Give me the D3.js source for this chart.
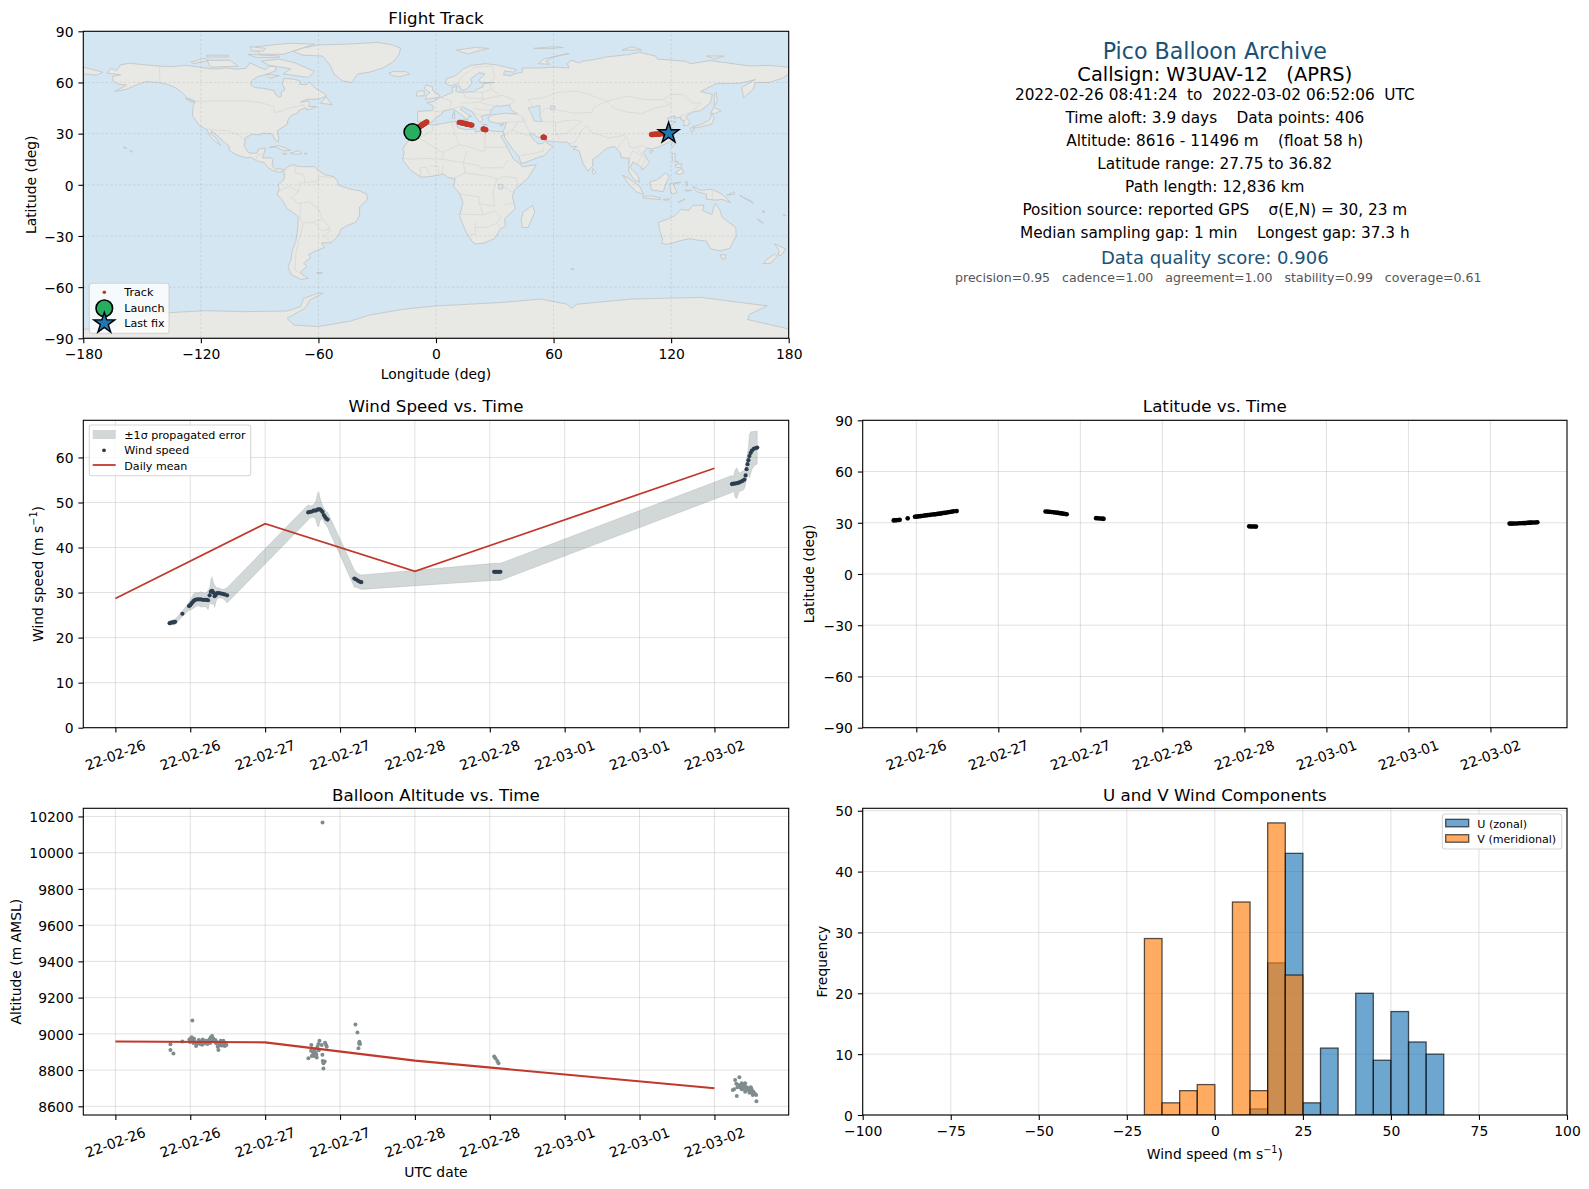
<!DOCTYPE html>
<html>
<head>
<meta charset="utf-8">
<script src="https://cdn.jsdelivr.net/npm/d3@7"></script>
<style>
  html, body { margin: 0; padding: 0; background: #fff; }
  svg { display: block; }
  text { font-family: "DejaVu Sans", sans-serif; fill: #000; }
</style>
</head>
<body>
<svg id="chart" width="1589" height="1189"></svg>
<script>
// ── Data ──────────────────────────────────────────────────────────────────────

// hours since 2022-02-26 00:00 UTC, shared by the track, wind and latitude marks
const trackHours = [
  8.69, 8.9, 9.1, 9.35, 9.57, 10.74, 11.8, 12.0, 12.2, 12.4, 12.6, 12.8, 13.1, 13.4, 13.7, 14.0,
  14.3, 14.6, 14.85, 15.1, 15.3, 15.5, 15.7, 15.9, 16.1, 16.3, 16.6, 16.9, 17.2, 17.5, 17.9,
  30.9, 31.2, 31.5, 31.8, 32.1, 32.4, 32.6, 32.8, 33.0, 33.2, 33.4, 33.6, 33.8, 34.0,
  38.3, 38.6, 38.9, 39.2, 39.4,
  60.7, 60.95, 61.2, 61.45, 61.7,
  98.8, 99.05, 99.3, 99.6, 99.9, 100.2, 100.5, 100.8, 101.0, 101.15, 101.3, 101.45, 101.6, 101.8,
  102.0, 102.3, 102.6, 102.86
];
const windSpeed = [
  23.2, 23.3, 23.4, 23.4, 23.5, 25.3, 27.0, 27.2, 27.6, 27.9, 28.2, 28.4, 28.5, 28.5, 28.5, 28.4,
  28.4, 28.4, 28.3, 29.4, 30.2, 30.4, 30.0, 29.2, 29.5, 29.9, 29.9, 29.8, 29.7, 29.6, 29.4,
  47.8, 47.9, 48.0, 48.2, 48.2, 48.4, 48.5, 48.5, 48.2, 47.9, 47.2, 46.8, 46.4, 46.2,
  33.1, 32.9, 32.6, 32.4, 32.3,
  34.6, 34.6, 34.6, 34.6, 34.6,
  54.1, 54.2, 54.2, 54.3, 54.4, 54.6, 54.8, 55.1, 56.0, 57.4, 58.5, 59.4, 60.3, 61.0,
  61.5, 61.9, 62.1, 62.2
];
const windSigma = [
  0.5, 0.5, 0.5, 0.6, 0.6, 0.6, 0.9, 1.1, 1.3, 1.5, 1.6, 1.6, 1.4, 1.5, 1.7, 1.6,
  1.5, 1.7, 2.1, 1.6, 2.6, 3.1, 2.2, 2.5, 1.7, 1.2, 1.1, 1.0, 1.0, 1.2, 1.7,
  1.7, 1.3, 1.3, 1.4, 2.0, 3.6, 3.9, 2.6, 1.9, 1.5, 1.5, 1.5, 1.5, 1.7,
  1.9, 1.7, 1.6, 1.6, 1.6,
  1.9, 1.9, 1.9, 1.9, 1.9,
  1.9, 1.5, 3.0, 3.4, 2.2, 2.0, 2.2, 2.0, 2.0, 2.2, 2.4, 2.8, 4.8, 4.7,
  4.2, 3.9, 3.7, 3.7
];
const trackLat = [
  31.4, 31.5, 31.5, 31.6, 31.7, 32.6, 33.5, 33.6, 33.7, 33.8, 33.9, 34.0, 34.2, 34.3, 34.5, 34.6,
  34.8, 34.9, 35.0, 35.2, 35.3, 35.4, 35.5, 35.7, 35.8, 35.9, 36.1, 36.3, 36.5, 36.7, 36.82,
  36.6, 36.5, 36.4, 36.3, 36.1, 36.0, 35.9, 35.8, 35.6, 35.5, 35.4, 35.3, 35.1, 35.0,
  32.7, 32.6, 32.5, 32.4, 32.3,
  27.9, 27.85, 27.8, 27.78, 27.75,
  29.5, 29.5, 29.5, 29.6, 29.6, 29.7, 29.7, 29.8, 29.8, 29.9, 29.9, 30.0, 30.0, 30.1,
  30.1, 30.2, 30.2, 30.3
];
const trackLon = [
  -12.0, -11.8, -11.6, -11.4, -11.2, -10.2, -9.2, -9.0, -8.9, -8.8, -8.6, -8.5, -8.3, -8.1, -7.9, -7.7,
  -7.5, -7.3, -7.1, -7.0, -6.8, -6.7, -6.5, -6.3, -6.1, -5.9, -5.7, -5.4, -5.2, -5.0, -4.7,
  11.9, 12.4, 12.9, 13.4, 13.9, 14.4, 14.8, 15.2, 15.6, 16.1, 16.6, 17.2, 17.7, 18.3,
  24.1, 24.4, 24.7, 25.0, 25.4,
  54.7, 54.85, 55.0, 55.15, 55.3,
  110.0, 110.4, 110.9, 111.4, 111.9, 112.4, 112.9, 113.4, 113.8, 114.2, 114.6, 115.0, 115.5, 116.0,
  116.5, 117.1, 117.8, 118.6
];

const launchPoint = [-12.05, 30.9];
const lastFixPoint = [118.7, 30.3];

const meanHours = [0, 24, 48, 96];
const windMean = [28.7, 45.3, 34.7, 57.6];
const altMean = [8958, 8953, 8852, 8700];

const altHours = [
  8.82, 8.82, 9.3, 10.74, 12.34, 11.86, 11.97, 12.24, 12.4, 12.61, 12.93, 13.15, 13.36, 13.57, 13.79,
  14.0, 14.21, 14.53, 14.75, 15.07, 15.28, 15.5, 15.71, 16.03, 16.24, 16.51, 16.67, 16.88, 17.1, 17.31,
  17.53, 17.79, 12.77, 13.47, 14.37, 14.9, 16.4, 17.0, 17.42,
  12.1, 12.5, 13.0, 13.3, 13.9, 14.1, 14.45, 14.95, 15.2, 15.6, 15.9, 16.15, 16.75, 17.2, 17.65,
  30.93, 31.41, 31.36, 31.63, 31.84, 31.47, 32.27, 32.1, 32.54, 32.7, 32.38, 33.07, 33.18, 33.23, 33.55,
  33.34, 33.34, 33.6, 33.77, 33.87, 33.2,
  31.75, 31.95, 32.2, 32.6,
  38.47, 38.79, 39.11, 39.21, 38.95, 39.05,
  60.7, 60.9, 61.2, 61.4,
  100.0, 99.31, 98.94, 99.58, 102.73, 100.38, 99.85, 100.92, 100.65, 100.12, 101.18, 101.45, 101.82,
  101.99, 102.25, 102.52, 102.68, 101.61, 102.14, 100.92, 100.38, 99.15, 99.69,
  99.5, 100.25, 100.55, 100.8, 101.05, 101.3, 101.7, 101.9, 102.05, 102.4
];
const altMeters = [
  8942, 8911, 8892, 8958, 9074, 8969, 8955, 8981, 8962, 8973, 8933, 8947, 8966, 8944, 8958,
  8969, 8947, 8962, 8944, 8969, 8981, 8988, 8973, 8966, 8955, 8911, 8940, 8962, 8936, 8962,
  8933, 8938, 8955, 8955, 8955, 8962, 8929, 8951, 8947,
  8975, 8950, 8945, 8952, 8940, 8960, 8950, 8958, 8950, 8960, 8958, 8948, 8935, 8945, 8950,
  8865, 8938, 8907, 8901, 8877, 8877, 8870, 8896, 8944, 8962, 8929, 8938, 8885, 8850, 8848,
  8837, 8809, 8951, 8938, 8929, 10166,
  8890, 8915, 8885, 8910,
  9052, 9008, 8957, 8944, 8920, 8947,
  8875, 8865, 8850, 8838,
  8760, 8745, 8690, 8657, 8628, 8727, 8718, 8727, 8705, 8705, 8705, 8690, 8705,
  8690, 8681, 8668, 8663, 8675, 8663, 8681, 8694, 8694, 8705,
  8725, 8715, 8695, 8715, 8690, 8700, 8680, 8698, 8678, 8670
];

// histogram: left bin edges in m/s, all bins 5 wide
const binStarts = [-20, -15, -10, -5, 0, 5, 10, 15, 20, 25, 30, 35, 40, 45, 50, 55, 60];
const uCounts = [0, 0, 0, 0, 0, 0, 1, 25, 43, 2, 11, 0, 20, 9, 17, 12, 10];
const vCounts = [29, 2, 4, 5, 0, 35, 4, 48, 23, 0, 0, 0, 0, 0, 0, 0, 0];

const timeTicks = [0, 12, 24, 36, 48, 60, 72, 84, 96];
const timeTickLabels = ['22-02-26', '22-02-26', '22-02-27', '22-02-27', '22-02-28', '22-02-28', '22-03-01', '22-03-01', '22-03-02'];

const infoLines = [
  'Pico Balloon Archive',
  'Callsign: W3UAV-12   (APRS)',
  '2022-02-26 08:41:24  to  2022-03-02 06:52:06  UTC',
  'Time aloft: 3.9 days    Data points: 406',
  'Altitude: 8616 - 11496 m    (float 58 h)',
  'Latitude range: 27.75 to 36.82',
  'Path length: 12,836 km',
  'Position source: reported GPS    σ(E,N) = 30, 23 m',
  'Median sampling gap: 1 min    Longest gap: 37.3 h',
  'Data quality score: 0.906',
  'precision=0.95   cadence=1.00   agreement=1.00   stability=0.99   coverage=0.61'
];

// Land outlines, lon/lat, read by eye from the map
const landPolygons = [
  // North and Central America
  [[-168,65.5],[-166,68.3],[-163,67],[-161,70.3],[-156.5,71.3],[-150,70.5],[-141,69.6],[-135,69.3],[-128,70],[-124,69.5],[-115,68],[-110,68],[-108,68.6],[-102,67.8],[-97,68.3],[-95,71.5],[-92,70],[-90,68.8],[-87,67.5],[-85,69.5],[-82,69.5],[-81.5,67],[-87,64.5],[-91,63.5],[-94,61],[-94.5,58.7],[-92.5,57],[-88,56.5],[-82.5,55.2],[-82,53],[-80,51.3],[-79,52],[-79,54.5],[-77,56],[-78.5,59],[-77.5,62.4],[-73,62],[-69.5,61],[-69.5,58.8],[-66,58.8],[-64.5,60.3],[-61.5,56.5],[-57,53.5],[-56,52],[-60,50.2],[-66,50.2],[-69,48.5],[-65,49.2],[-64.5,47.5],[-65,46],[-61,45.8],[-64,44.5],[-66,43.8],[-66,45],[-67,45],[-70,43.5],[-70.7,42],[-74,40.6],[-75.5,38],[-76,35.5],[-78,33.8],[-81,31.8],[-80.2,27],[-80.5,25.2],[-81.8,26],[-82.8,28],[-84,30],[-89,30.3],[-89.5,29.2],[-94,29.6],[-97.3,27.5],[-97.8,22.5],[-95.5,18.7],[-91.5,18.5],[-90.5,21],[-87,21.5],[-88,17.5],[-88.7,15.8],[-84,15.8],[-83.3,14.8],[-83.7,11],[-82,9],[-79.7,9.5],[-77.3,8.5],[-78,8],[-80,7.3],[-83,8.2],[-85.7,10],[-87.6,13],[-91.5,14],[-94.5,16.2],[-97,15.8],[-101.5,17.5],[-105.5,20],[-105.5,22.5],[-109,26],[-112.8,30],[-114.7,31.5],[-114.8,30],[-112,27],[-110,23],[-112,24.7],[-115,28],[-117,32.5],[-120.5,34.5],[-122.5,37.5],[-124.3,40.5],[-124,46],[-122.8,49],[-127,51],[-130,54.5],[-133,57],[-137,58.8],[-142,60],[-148,60.5],[-152,59],[-158,56],[-164,54.7],[-158,58.5],[-162,59],[-165,61],[-165,63.5],[-161,64.5]],
  // South America
  [[-77.3,8.5],[-75.5,10.7],[-72,12],[-71.5,11],[-68,10.6],[-62,10.7],[-60,8.4],[-57,6],[-52,4.7],[-50,1.5],[-50,0],[-48,-1],[-44,-2.5],[-39,-3.5],[-35.3,-5.5],[-35,-8.5],[-39,-13],[-39,-18],[-41,-22],[-45,-23.7],[-48.5,-26],[-50,-30],[-53.5,-34],[-58.3,-34],[-57,-36.8],[-62,-39],[-65,-41],[-64,-42.8],[-67.5,-46],[-66,-48],[-69,-51],[-68.3,-52.5],[-65.2,-54.8],[-69,-55.5],[-74,-52.5],[-75.5,-48],[-74,-44],[-73.5,-39],[-71.5,-33],[-70.5,-25],[-70.3,-18.5],[-76,-14],[-79,-8],[-81.2,-5.5],[-80,-3],[-80.5,0],[-78.5,2],[-77.3,4],[-77.5,7],[-78,8]],
  // Greenland
  [[-73,78.2],[-68,80.2],[-60,82],[-45,82.5],[-30,83.5],[-22,82],[-18,80],[-19,76],[-22,72],[-27,68.5],[-34,66],[-40,65],[-43,60],[-48,61],[-52,65],[-54,70],[-58,75.5],[-68,76]],
  // Canadian Arctic
  [[-80,73.7],[-72,71.5],[-67,69],[-62,66.5],[-65,63],[-72,64],[-78,65],[-74,68],[-85,70],[-89,72.5]],
  [[-117,73],[-105,73],[-101,69.5],[-115,69]],
  [[-90,76.5],[-78,76.5],[-62,82.5],[-75,83],[-92,81]],
  [[-125,72],[-118,74.2],[-116,73],[-124,71]],
  [[-96,76.5],[-80,75.5],[-80,74.7],[-92,74.7]],
  [[-117,76],[-106,76],[-106,75],[-117,75]],
  [[-95,81],[-87,80],[-88,78.5],[-94,78.5]],
  [[-87,65],[-80,64],[-85,62.5]],
  [[-59,47.8],[-56,51.5],[-53,47]],
  [[-128,50.8],[-124,49],[-123.5,48.4],[-125.5,48.8]],
  // Caribbean and Pacific islands
  [[-85,22],[-80,23],[-74.2,20.2],[-77.5,19.9],[-82,22.2]],
  [[-74.4,18.5],[-70,20],[-68.5,18.5],[-71.5,17.8]],
  [[-78.3,18.4],[-76.3,18.2],[-77.5,17.8]],
  [[-67.2,18.5],[-65.7,18.4],[-66.5,17.9]],
  [[-156,20.2],[-155,19.7],[-155.7,19]],
  [[-159.7,22.2],[-158,21.6],[-157.8,21.2],[-158.2,21.3]],
  // Iceland and the British Isles
  [[-24,65.5],[-22,66.4],[-15,66.3],[-13.5,65],[-18.5,63.4],[-22.5,64]],
  [[-5.5,50],[1.3,51.2],[1.7,52.7],[-1.5,55],[-2,57.6],[-5,58.6],[-6,56.5],[-3,54],[-4.8,52.8],[-5,51.7]],
  [[-10,52],[-6,52.2],[-6,55],[-8.3,55.2],[-10,54]],
  // Eurasia
  [[-9.5,37],[-9.3,43],[-2,43.5],[-1.2,46],[-4.7,48.3],[-1.5,48.7],[1.5,50.8],[4,52],[7,53.5],[8.5,54],[8.2,57],[10.7,57.7],[10,55],[12,54.2],[19,54.5],[21,56],[24,57.5],[24,59.3],[30,60],[23,60],[21.5,61],[25,65],[22,65.8],[17.5,62],[18.5,60],[16.5,57],[14.5,55.5],[13,55.5],[11.5,58.5],[10.5,59.3],[8,58],[5.3,59],[5,62],[10,64],[14,68],[18,70],[25,71],[31,70.3],[41,67.5],[40,66],[35,66.7],[34.5,64.5],[38,64],[40,65],[44,66],[44,68.5],[54,68.5],[60,69],[68,68.5],[67,71],[69,73],[73,71.5],[75,72.5],[81,73.5],[87,75],[98,76.3],[104,77.7],[112,75.5],[113,73.7],[127,72.5],[130,71],[140,72.8],[160,69.7],[170,70],[180,69],[180,65],[177,62.5],[170,60],[163,60],[162,56],[157,51],[156,57],[163,61.7],[155,59.5],[143,59.3],[135,54.7],[141,53],[140,48],[135,43.5],[130.5,42.5],[127.5,39.8],[129.5,37],[129,35.2],[126.3,34.5],[126.7,37.7],[125,38],[125,39.7],[121.5,39],[122,40.5],[118,39],[119,37.3],[122.5,37],[119.5,35],[122,31],[121.5,28.3],[119,25],[114,22.3],[110,21],[108,21.5],[105.7,19],[109,13],[107,10.5],[105,8.7],[105,10.3],[102.5,12],[100.5,13.5],[99.2,10],[103,5.5],[104,1.5],[101,3],[98.3,8],[98.5,15.5],[94.5,16],[94,19],[91,22.5],[87,21.3],[82,16.3],[80,15],[80,11],[77.5,8],[75,12.5],[73,20],[70,21],[72,22.5],[69,22.5],[67,25],[61.5,25.2],[57,25.7],[56.3,27],[51.5,28],[48.8,30.3],[48,29.5],[50.2,26],[51.5,25],[52,24],[54.5,24.2],[56.3,26.2],[56.5,24.5],[59.8,22.5],[55,17],[52,16],[45,12.8],[43.2,12.7],[42.5,16.5],[39,21],[35,27.8],[34.9,29.5],[34.2,31.3],[35,33],[36,36.5],[32,36],[30,36.5],[27.3,37],[26.5,39.5],[29,41],[35,42],[41.5,41.5],[38,44.5],[37.5,46.9],[33,46],[30.5,46.5],[28,43.5],[28,41.5],[26,41],[23,40.3],[24,38],[22.5,36.5],[19.5,41],[19,42.5],[13.5,45.7],[12.3,44.5],[16,41.5],[18.3,40],[16.7,40.2],[16,38],[12.5,41.5],[8.8,44.4],[3.5,43.3],[3.2,41.8],[-0.3,39],[-2,36.8],[-5.5,36],[-7,37.2]],
  [[-180,69],[-175,67.5],[-170,66],[-173,64.3],[-180,65]],
  // Africa
  [[-5.8,35.8],[-1.5,35],[10,37.3],[11,33.5],[15,32.3],[20,32.8],[20,31],[25,32],[32,31.2],[34.2,31.2],[34.9,29.5],[33,28.5],[35.5,24],[37.3,20],[39.5,15],[43.2,12],[44,10.5],[51.2,11.8],[47,4],[40,-3],[39,-7],[40.5,-14],[35,-20],[35.5,-24],[32.7,-26],[30,-31.5],[25,-34],[20,-34.8],[18.3,-33],[15,-27],[12,-18],[13.8,-10.5],[12,-5],[9,-1],[9.7,3.5],[6,4.3],[4,6.3],[-2,5],[-7.5,4.4],[-13,8.5],[-17,14.7],[-16.3,19],[-17,21],[-13,27.7],[-9.8,30],[-9,33]],
  [[49.3,-12],[50.4,-16],[47,-25],[44,-25],[43.5,-20],[44.5,-16]],
  // Australia and the islands north of it
  [[113.5,-22],[114,-26],[115.7,-32],[115,-34.3],[118,-35],[124,-33],[129,-31.6],[134,-32.5],[138,-33],[140,-37.5],[145,-38.8],[150,-37.3],[153.2,-30],[153,-25],[146,-19],[145,-15],[142.5,-10.8],[141.5,-14],[140.8,-17.5],[136,-15],[136.8,-12],[131,-12],[129,-15],[125,-14.5],[122,-18],[118,-20.3]],
  [[145,-41],[148,-41],[147.5,-43.5],[146,-43.5]],
  [[172.8,-34.5],[178.5,-37.7],[176,-41.5],[174.7,-41.2],[175,-38.5]],
  [[172.7,-40.6],[174.2,-41.8],[170.8,-46],[167,-46.2],[168.5,-44]],
  [[131,-1],[135,-3.3],[141,-2.6],[146,-5.5],[150.5,-10.5],[146,-8.5],[143,-9],[138,-8.4],[138,-5.5],[133,-4]],
  [[109,1.5],[113,3],[117,7],[119,5],[117.5,1],[116,-4],[110,-3]],
  [[95.3,5.6],[98,4],[104,-1],[106,-5.8],[102,-4],[98,1]],
  [[105.5,-6.8],[110,-6.5],[114.5,-7.7],[114.5,-8.7],[106,-7.8]],
  [[119.5,0.8],[125,1.5],[121,0.3],[123,-4.5],[120.5,-5.5],[119.5,-3]],
  [[116,-8.5],[119,-8.3],[119,-8.9],[116,-9]],
  [[123.5,-10.3],[127,-8.4],[125,-9.6]],
  [[127.5,2],[128.5,1.5],[128,-0.8],[127.5,0.5]],
  [[127,-3.2],[130.5,-3.2],[128,-3.8]],
  [[120.5,18.5],[122,18.3],[122,14.5],[124,13],[120.7,14]],
  [[122,7],[125.5,9.8],[126.5,7],[124,6]],
  [[122,11.7],[125.5,12.5],[125,10.3],[122.5,10]],
  [[121,25],[122,25],[120.8,22],[120,23.3]],
  [[109,20],[111,20],[109.5,18.3]],
  [[152,-4.2],[152.5,-5.5],[148.5,-6],[150,-5.3]],
  [[155,-6],[157,-7.5],[161,-9.5],[162,-10.8],[159,-9]],
  [[164,-20],[167,-22.3],[166,-22.3]],
  [[166.7,-15],[167.8,-16],[167,-16.2]],
  [[177.3,-17.5],[178.6,-18],[177.5,-18.3]],
  // Japan, Sakhalin, Sri Lanka
  [[130.8,34],[135.5,35.5],[139.5,38],[141,41.3],[142,39.5],[140.8,35.7],[137,34.5],[133,33.5]],
  [[130,33.5],[132,33],[131,31],[130,31.5]],
  [[140,41.5],[141.7,45.4],[145.5,43.5],[143,42]],
  [[142,46],[143.5,49],[143,54.2],[142,53],[142,49]],
  [[80,9.5],[81.8,7.5],[80.5,6],[79.8,7.5]],
  // Arctic Russia and Svalbard
  [[14,77.5],[10.5,79],[20,80.5],[27,80],[20,78],[16.5,76.7]],
  [[52,71],[55.5,74],[68,77],[60,75],[56,72.5],[58,70.7]],
  [[95,79],[105,79],[100,81]],
  [[138,75.5],[147,75.5],[142,73.8]],
  [[50,80],[60,81],[65,80.5],[55,79.8]],
  // Mediterranean
  [[8.3,41],[9.7,41],[9.5,39],[8.5,39]],
  [[8.7,42.5],[9.5,43],[9.3,41.4]],
  [[12.5,38],[15.5,38.2],[15,36.7]],
  [[23.7,35.5],[26.2,35.2],[24.5,35]],
  [[32.5,35],[34.5,35.6],[33.5,34.6]],
  // Southern ocean
  [[-61,-51.5],[-58,-51.5],[-59,-52.3]],
  [[69,-49],[70.5,-49.5],[69,-49.6]],
  // Antarctica
  [[-180,-90],[-180,-84.7],[-165,-84],[-155,-79],[-145,-75.5],[-117.5,-73.8],[-98.5,-74.4],[-76,-74],[-69,-71.4],[-67.6,-66.6],[-60,-63.5],[-57.6,-63.5],[-64.3,-67.5],[-66.8,-72.3],[-76,-78.3],[-72.4,-82.2],[-60,-83.1],[-44,-80],[-34,-76.4],[-17,-73],[0,-71],[9,-70.5],[33,-69],[53.6,-67],[67,-70],[69,-72.5],[72,-70],[100,-67],[135,-66],[169,-71],[160,-76],[159,-79],[178,-84],[180,-84.7],[180,-90]]
];

// Inland seas, painted back over the land
const waterPolygons = [
  [[47,45],[53,46.5],[53,41],[54,37],[50,37.5],[49,41]],
  [[58.5,46.5],[61,46],[60,44],[58.5,44]],
  [[32,0.3],[34,0.3],[34,-2.5],[32,-2.5]]
];

// Country borders, coarse
const borderLines = [
  [[-123,49],[-95,49],[-89,48],[-83,46],[-82.5,42.5],[-79,43],[-75,45],[-70,46],[-67.5,47],[-67,45]],
  [[-141,69.6],[-141,60]],
  [[-117,32.5],[-106.5,31.7],[-101,29.5],[-97.3,25.9]],
  [[-92,14.5],[-91,17.5],[-88.5,18]],
  [[-51.5,4],[-60,5],[-60,2],[-70,1],[-70,-4],[-74,-7.5],[-70,-11],[-65,-10],[-60,-14],[-58,-20],[-55,-24],[-54,-27],[-57.5,-30],[-53.5,-33.5]],
  [[-69.5,-18],[-68,-24],[-70,-33],[-71.5,-40],[-72,-50],[-69,-52]],
  [[-69,-11],[-69.5,-18]],
  [[-72,12],[-72,7],[-67.5,6],[-67,1.5]],
  [[-80,-3.5],[-75,-1],[-70,-4]],
  [[-68,-22.5],[-62.5,-22],[-58,-20]],
  [[-62.5,-22],[-58,-27],[-54.5,-26]],
  [[-2,35],[-1.5,32],[-8.7,27.5],[-13,27.7]],
  [[-8.7,27.5],[-5,25],[3,19],[12,23.5],[9.5,30],[8,36.9]],
  [[25,31.7],[25,20]],
  [[25,22],[36.8,22]],
  [[12,23.5],[15,23],[24,19.5],[25,20]],
  [[3,15],[4,19]],
  [[-17,15.5],[-12,15],[-5,15.5],[3,15]],
  [[3,15],[14,13],[22.5,11],[23.5,9]],
  [[3,6.5],[3.7,11.5]],
  [[14,13],[15,7],[9,4]],
  [[15,7],[27,5],[31,3.5],[35,5],[41,4],[42,-1.5]],
  [[23.5,10],[34,10],[36.5,14.5]],
  [[14,13],[16,20]],
  [[12,-5.5],[22,-7],[22,-11],[30,-12.5],[29,-4],[30,-1],[31,3.5]],
  [[34,-1],[39.5,-4.5]],
  [[40.5,-10.7],[35,-11.5]],
  [[12,-17.3],[24,-17.5],[22,-11]],
  [[20,-22],[20,-29],[17,-29]],
  [[20,-25],[26,-25],[31,-22.5],[33,-25]],
  [[24,-17.5],[30,-15.5],[33,-19],[31,-22.5]],
  [[-8,4.5],[-8,10],[-5,10.5],[-3,5]],
  [[-3,11],[1,11],[1.5,6]],
  [[-1.8,43.4],[3,42.5]],
  [[2.5,51],[8,49],[7,44]],
  [[14,54],[15,51],[24,50.5]],
  [[19,54.4],[23.5,54],[24,50],[22,48.5]],
  [[13,48],[17,48],[22,48.5],[30,46]],
  [[7,44],[13.5,46.5]],
  [[22.5,41],[19.5,42]],
  [[28,43.7],[22.5,44],[19,45]],
  [[28,59.5],[28,56],[23.5,54]],
  [[28,60.5],[30,62.5],[29,69.5]],
  [[11.5,59],[12.5,63],[20,69],[29,69.5]],
  [[24,50],[31.5,52],[34,52.5],[40,49.5],[38,47]],
  [[28,56],[32,53]],
  [[49,46.5],[47,50],[55,51],[61,54],[71,55],[77,53.5],[87,49]],
  [[87,49],[98,52],[106,50],[116,50],[120,47]],
  [[87,49],[91,45],[97,42.7],[105,41.7],[112,45],[120,47]],
  [[116,50],[120,53],[126,53],[131,48],[135,48],[131,43],[130.5,42.5]],
  [[124.5,40],[130,42.5]],
  [[126.5,37.8],[128.5,38.5]],
  [[53,41.5],[56,45],[61,44],[66,43],[70,42],[80,42.5],[80,45],[87,49]],
  [[44.5,39.5],[46,35],[48,30]],
  [[61,36.5],[61,31],[63,27],[61.5,25.2]],
  [[54,37.3],[61,36.5]],
  [[61,36.5],[66,37.5],[71,38],[74.5,37],[71,34],[66.5,30],[61,29.5]],
  [[68,24],[71,25],[74.5,32],[77,35]],
  [[77,35],[79,31],[88,27.5],[96,29],[97,27.5],[94,24],[92.5,21]],
  [[97.5,27.5],[99,22],[101,21.5],[105,23],[108,21.5]],
  [[98.5,10],[99,17],[100.5,20],[105,17],[102.5,12]],
  [[103,21],[107,15],[105,11]],
  [[35,29.5],[39,32],[46.5,29],[48,29.5]],
  [[36,36.7],[44.5,37],[44.5,39.5],[41.5,41.5]],
  [[39,32],[42,37]],
  [[43,17],[52,19],[55,20],[55,22]],
  [[141,-2.6],[141,-9]],
  [[109.5,2],[115,4]]
];

// ── Layout and styling ────────────────────────────────────────────────────────

const RED = '#c0392b', NAVY = '#2c3e50', SLATE = '#7f8c8d', BLUE = '#1f77b4', ORANGE = '#ff7f0e';
const TITLE_BLUE = '#1a5276';

const svg = d3.select('#chart');
const defs = svg.append('defs');

const columns = { left: [83.3, 788.7], right: [862.7, 1567] };
const rows = { top: [338.3, 31.3], mid: [727.7, 420.3], low: [1115, 808.3] };

// ── Panel scaffolding ─────────────────────────────────────────────────────────

function makePanel(id, col, row, xDomain, yDomain, title, titleY) {
  const x = d3.scaleLinear().domain(xDomain).range(columns[col]);
  const y = d3.scaleLinear().domain(yDomain).range(rows[row]);
  const root = svg.append('g').attr('class', 'panel-' + id);
  const [x0, x1] = columns[col], [y0, y1] = rows[row];

  defs.append('clipPath').attr('id', 'clip-' + id)
    .append('rect').attr('x', x0).attr('y', y1).attr('width', x1 - x0).attr('height', y0 - y1);

  const under = root.append('g');
  const grid = root.append('g');
  const plot = root.append('g').attr('clip-path', `url(#clip-${id})`);
  const frame = root.append('g');

  frame.append('rect')
    .attr('x', x0).attr('y', y1).attr('width', x1 - x0).attr('height', y0 - y1)
    .attr('fill', 'none').attr('stroke', '#000').attr('stroke-width', 1.1);

  root.append('text')
    .attr('x', (x0 + x1) / 2).attr('y', titleY)
    .attr('text-anchor', 'middle').attr('dominant-baseline', 'central')
    .attr('font-size', 16.7).text(title);

  return { x, y, root, under, grid, plot, frame, x0, x1, y0, y1 };
}

function drawGrid(p, xTicks, yTicks, opts = {}) {
  const stroke = opts.stroke || '#b0b0b0';
  const opacity = opts.opacity || 0.38;
  const width = opts.width || 1;
  p.grid.selectAll('.gx').data(xTicks).join('line').attr('class', 'gx')
    .attr('x1', d => p.x(d)).attr('x2', d => p.x(d)).attr('y1', p.y0).attr('y2', p.y1);
  p.grid.selectAll('.gy').data(yTicks).join('line').attr('class', 'gy')
    .attr('x1', p.x0).attr('x2', p.x1).attr('y1', d => p.y(d)).attr('y2', d => p.y(d));
  p.grid.selectAll('line')
    .attr('stroke', stroke).attr('stroke-opacity', opacity).attr('stroke-width', width)
    .attr('stroke-dasharray', opts.dash || null);
}

function styleAxis(sel) {
  sel.select('.domain').remove();
  sel.selectAll('.tick line').attr('stroke', '#000').attr('stroke-width', 1.1);
  sel.selectAll('.tick text').attr('font-size', 13.9).attr('font-family', '"DejaVu Sans", sans-serif').attr('fill', '#000');
}

function drawAxes(p, xTicks, yTicks, xLabels) {
  const xAxis = d3.axisBottom(p.x).tickValues(xTicks).tickSize(4.9).tickPadding(6);
  if (xLabels) xAxis.tickFormat((d, i) => xLabels[i]);
  else xAxis.tickFormat(d3.format('d'));
  const yAxis = d3.axisLeft(p.y).tickValues(yTicks).tickSize(4.9).tickPadding(4.9).tickFormat(d3.format('d'));

  const gx = p.frame.append('g').attr('transform', `translate(0,${p.y0})`).call(xAxis).call(styleAxis);
  const gy = p.frame.append('g').attr('transform', `translate(${p.x0},0)`).call(yAxis).call(styleAxis);
  gy.selectAll('.tick text').attr('y', 0.8);

  if (xLabels) {
    gx.selectAll('.tick text')
      .attr('y', 0).attr('dy', '0.35em')
      .attr('text-anchor', 'middle')
      .attr('transform', 'translate(-0.5,27.5) rotate(-20)');
  }
}

function xLabel(p, label, y) {
  const t = p.root.append('text')
    .attr('x', (p.x0 + p.x1) / 2).attr('y', y)
    .attr('text-anchor', 'middle').attr('dominant-baseline', 'central')
    .attr('font-size', 13.9);
  writeUnits(t, label);
}

function yLabel(p, label, x) {
  const cy = (p.y0 + p.y1) / 2;
  const t = p.root.append('text')
    .attr('transform', `translate(${x},${cy}) rotate(-90)`)
    .attr('text-anchor', 'middle').attr('dominant-baseline', 'central')
    .attr('font-size', 13.9);
  writeUnits(t, label);
}

// "m s^-1" style labels need a raised tspan
function writeUnits(t, label) {
  const parts = label.split('^');
  if (parts.length === 1) { t.text(label); return; }
  t.append('tspan').text(parts[0]);
  t.append('tspan').attr('dy', -5).attr('font-size', 9.7).text('−1');
  t.append('tspan').attr('dy', 5).text(parts[1]);
}

function legendBox(p, x, y, w, h) {
  p.frame.append('rect')
    .attr('x', x).attr('y', y).attr('width', w).attr('height', h).attr('rx', 2.5)
    .attr('fill', '#fff').attr('fill-opacity', 0.8)
    .attr('stroke', '#ccc').attr('stroke-opacity', 0.8).attr('stroke-width', 1.1);
}

function legendText(p, x, y, label) {
  p.frame.append('text')
    .attr('x', x).attr('y', y).attr('dominant-baseline', 'central')
    .attr('font-size', 11.1).text(label);
}

const lineOf = (x, y) => d3.line().x(d => x(d[0])).y(d => y(d[1]));

// ── Flight track map ──────────────────────────────────────────────────────────

const lonTicks = [-180, -120, -60, 0, 60, 120, 180];
const latTicks = [-90, -60, -30, 0, 30, 60, 90];

const mapPanel = makePanel('map', 'left', 'top', [-180, 180], [-90, 90], 'Flight Track', 17.8);
mapPanel.under.append('rect')
  .attr('x', mapPanel.x0).attr('y', mapPanel.y1)
  .attr('width', mapPanel.x1 - mapPanel.x0).attr('height', mapPanel.y0 - mapPanel.y1)
  .attr('fill', '#d4e6f1');

const geoLine = lineOf(mapPanel.x, mapPanel.y);
const landLayer = mapPanel.under.append('g').attr('clip-path', 'url(#clip-map)');

landLayer.selectAll('.land').data(landPolygons).join('path').attr('class', 'land')
  .attr('d', d => geoLine(d) + 'Z')
  .attr('fill', '#e8e8e4').attr('stroke', '#bfc3c5').attr('stroke-width', 0.8);

landLayer.selectAll('.border').data(borderLines).join('path').attr('class', 'border')
  .attr('d', geoLine)
  .attr('fill', 'none').attr('stroke', '#d6d6d2').attr('stroke-width', 0.7);

landLayer.selectAll('.water').data(waterPolygons).join('path').attr('class', 'water')
  .attr('d', d => geoLine(d) + 'Z')
  .attr('fill', '#d4e6f1').attr('stroke', '#bfc3c5').attr('stroke-width', 0.7);

drawGrid(mapPanel, lonTicks, latTicks, { stroke: '#808080', opacity: 0.25, width: 0.7, dash: '2.5,2' });

mapPanel.plot.selectAll('.track').data(d3.range(trackHours.length)).join('circle').attr('class', 'track')
  .attr('cx', i => mapPanel.x(trackLon[i])).attr('cy', i => mapPanel.y(trackLat[i]))
  .attr('r', 2.7).attr('fill', RED);

const starPath = d3.symbol().type(d3.symbolStar).size(135)();

mapPanel.plot.append('circle')
  .attr('cx', mapPanel.x(launchPoint[0])).attr('cy', mapPanel.y(launchPoint[1]))
  .attr('r', 8.3).attr('fill', '#27ae60').attr('stroke', '#000').attr('stroke-width', 1.6);
mapPanel.plot.append('path')
  .attr('transform', `translate(${mapPanel.x(lastFixPoint[0])},${mapPanel.y(lastFixPoint[1])})`)
  .attr('d', starPath).attr('fill', BLUE).attr('stroke', '#000').attr('stroke-width', 1.4);

drawAxes(mapPanel, lonTicks, latTicks);
xLabel(mapPanel, 'Longitude (deg)', 374);
yLabel(mapPanel, 'Latitude (deg)', 30.5);

legendBox(mapPanel, 89.3, 283.3, 79.7, 50);
mapPanel.frame.append('circle').attr('cx', 104.3).attr('cy', 292.3).attr('r', 1.8).attr('fill', RED);
mapPanel.frame.append('circle').attr('cx', 104.3).attr('cy', 308.3).attr('r', 8.3)
  .attr('fill', '#27ae60').attr('stroke', '#000').attr('stroke-width', 1.6);
mapPanel.frame.append('path').attr('transform', 'translate(104.3,323.3)')
  .attr('d', starPath).attr('fill', BLUE).attr('stroke', '#000').attr('stroke-width', 1.4);
legendText(mapPanel, 124.3, 292.3, 'Track');
legendText(mapPanel, 124.3, 308, 'Launch');
legendText(mapPanel, 124.3, 323, 'Last fix');

// ── Header text ───────────────────────────────────────────────────────────────

const infoY = [50.8, 74, 94.8, 118, 141, 164, 187, 210, 233, 257.2, 277.2];
const infoX = [1214.8, 1214.8, 1214.8, 1214.8, 1214.8, 1214.8, 1214.8, 1214.8, 1214.8, 1214.8, 1218.3];
const infoSize = [22.2, 19.4, 15.3, 15.3, 15.3, 15.3, 15.3, 15.3, 15.3, 18, 12.55];
const infoColor = [TITLE_BLUE, '#000', '#000', '#000', '#000', '#000', '#000', '#000', '#000', TITLE_BLUE, '#555'];

svg.append('g').selectAll('text').data(infoLines).join('text')
  .attr('x', (d, i) => infoX[i]).attr('y', (d, i) => infoY[i])
  .attr('text-anchor', 'middle').attr('dominant-baseline', 'central')
  .attr('xml:space', 'preserve').style('white-space', 'pre')
  .attr('font-size', (d, i) => infoSize[i])
  .style('fill', (d, i) => infoColor[i])
  .text(d => d);

// ── Wind speed vs. time ───────────────────────────────────────────────────────

const windPanel = makePanel('wind', 'left', 'mid', [-5.14, 107.9], [0, 68.25], 'Wind Speed vs. Time', 405.9);
drawGrid(windPanel, timeTicks, d3.range(0, 61, 10));

const band = d3.area()
  .x(i => windPanel.x(trackHours[i]))
  .y0(i => windPanel.y(windSpeed[i] - windSigma[i]))
  .y1(i => windPanel.y(windSpeed[i] + windSigma[i]));

windPanel.plot.append('path')
  .attr('d', band(d3.range(trackHours.length)))
  .attr('fill', SLATE).attr('fill-opacity', 0.35)
  .attr('stroke', SLATE).attr('stroke-opacity', 0.2).attr('stroke-width', 1);

windPanel.plot.append('path')
  .attr('d', lineOf(windPanel.x, windPanel.y)(meanHours.map((h, i) => [h, windMean[i]])))
  .attr('fill', 'none').attr('stroke', RED).attr('stroke-width', 1.8);

windPanel.plot.selectAll('.dot').data(d3.range(trackHours.length)).join('circle').attr('class', 'dot')
  .attr('cx', i => windPanel.x(trackHours[i])).attr('cy', i => windPanel.y(windSpeed[i]))
  .attr('r', 2.1).attr('fill', NAVY);

drawAxes(windPanel, timeTicks, d3.range(0, 61, 10), timeTickLabels);
yLabel(windPanel, 'Wind speed (m s^)', 37.5);

legendBox(windPanel, 89.3, 425, 161.4, 50.7);
windPanel.frame.append('rect').attr('x', 92.7).attr('y', 430).attr('width', 23).attr('height', 9)
  .attr('fill', SLATE).attr('fill-opacity', 0.35);
windPanel.frame.append('circle').attr('cx', 104).attr('cy', 450.3).attr('r', 1.9).attr('fill', NAVY);
windPanel.frame.append('line').attr('x1', 92.7).attr('x2', 115.7).attr('y1', 465).attr('y2', 465)
  .attr('stroke', RED).attr('stroke-width', 1.8);
legendText(windPanel, 124.3, 435.3, '±1σ propagated error');
legendText(windPanel, 124.3, 450.3, 'Wind speed');
legendText(windPanel, 124.3, 466, 'Daily mean');

// ── Latitude vs. time ─────────────────────────────────────────────────────────

const latPanel = makePanel('lat', 'right', 'mid', [4.155, 107.2], [-90, 90], 'Latitude vs. Time', 405.9);
drawGrid(latPanel, timeTicks.slice(1), latTicks);

latPanel.plot.selectAll('.dot').data(d3.range(trackHours.length)).join('circle').attr('class', 'dot')
  .attr('cx', i => latPanel.x(trackHours[i])).attr('cy', i => latPanel.y(trackLat[i]))
  .attr('r', 2.3).attr('fill', '#000');

drawAxes(latPanel, timeTicks.slice(1), latTicks, timeTickLabels.slice(1));
yLabel(latPanel, 'Latitude (deg)', 808.7);

// ── Altitude vs. time ─────────────────────────────────────────────────────────

const altTicks = d3.range(8600, 10201, 200);
const altPanel = makePanel('alt', 'left', 'low', [-5.14, 107.9], [8552, 10245], 'Balloon Altitude vs. Time', 794.8);
drawGrid(altPanel, timeTicks, altTicks);

altPanel.plot.selectAll('.dot').data(altHours).join('circle').attr('class', 'dot')
  .attr('cx', d => altPanel.x(d)).attr('cy', (d, i) => altPanel.y(altMeters[i]))
  .attr('r', 2).attr('fill', SLATE);

altPanel.plot.append('path')
  .attr('d', lineOf(altPanel.x, altPanel.y)(meanHours.map((h, i) => [h, altMean[i]])))
  .attr('fill', 'none').attr('stroke', RED).attr('stroke-width', 2.1);

drawAxes(altPanel, timeTicks, altTicks, timeTickLabels);
xLabel(altPanel, 'UTC date', 1171.5);
yLabel(altPanel, 'Altitude (m AMSL)', 16);

// ── U and V histogram ─────────────────────────────────────────────────────────

const speedTicks = d3.range(-100, 101, 25);
const freqTicks = d3.range(0, 51, 10);
const histPanel = makePanel('hist', 'right', 'low', [-100, 100], [0, 50.4], 'U and V Wind Components', 794.8);
drawGrid(histPanel, speedTicks, freqTicks);

function drawBars(counts, color) {
  histPanel.plot.append('g').selectAll('rect')
    .data(binStarts.map((b, i) => ({ b, n: counts[i] })).filter(d => d.n > 0))
    .join('rect')
    .attr('x', d => histPanel.x(d.b))
    .attr('width', d => histPanel.x(d.b + 5) - histPanel.x(d.b))
    .attr('y', d => histPanel.y(d.n))
    .attr('height', d => histPanel.y(0) - histPanel.y(d.n))
    .attr('fill', color).attr('fill-opacity', 0.65)
    .attr('stroke', '#000').attr('stroke-opacity', 0.65).attr('stroke-width', 1.3);
}
drawBars(uCounts, BLUE);
drawBars(vCounts, ORANGE);

drawAxes(histPanel, speedTicks, freqTicks);
xLabel(histPanel, 'Wind speed (m s^)', 1154);
yLabel(histPanel, 'Frequency', 822);

legendBox(histPanel, 1442.3, 814, 119.4, 35);
[[819.3, BLUE], [834.7, ORANGE]].forEach(([y, c]) => {
  histPanel.frame.append('rect').attr('x', 1445.7).attr('y', y).attr('width', 23).attr('height', 7.5)
    .attr('fill', c).attr('fill-opacity', 0.65)
    .attr('stroke', '#000').attr('stroke-opacity', 0.65).attr('stroke-width', 1.3);
});
legendText(histPanel, 1477.3, 824, 'U (zonal)');
legendText(histPanel, 1477.3, 839, 'V (meridional)');
</script>
</body>
</html>
